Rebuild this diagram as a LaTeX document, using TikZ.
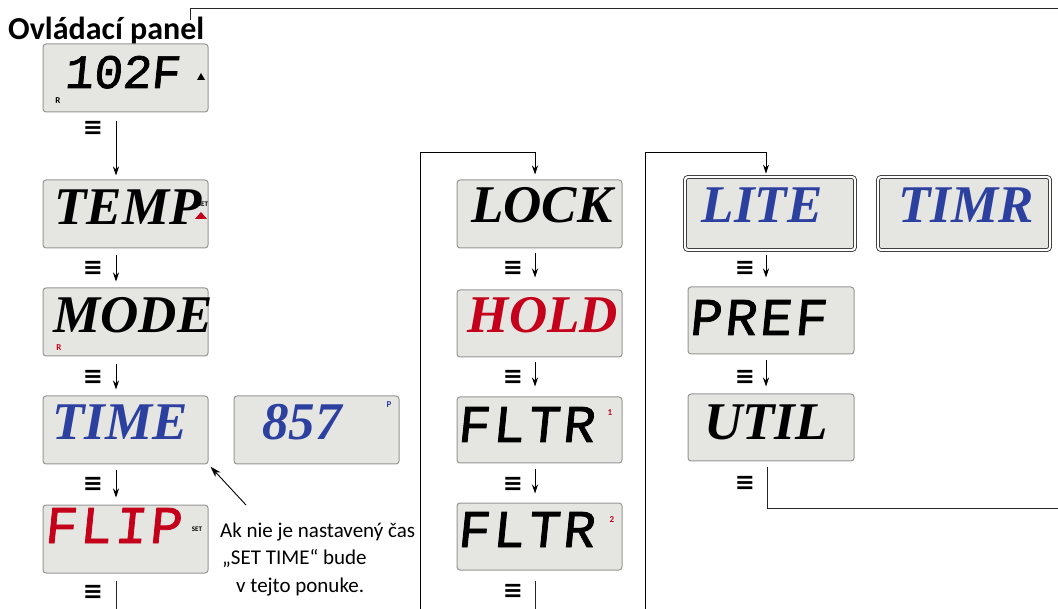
\documentclass[tikz,border=0pt]{standalone}
\usepackage{fontspec}
\setmainfont{Carlito}
\newfontfamily\lcdword{Liberation Serif}
\newfontfamily\segfont[FakeSlant=0.1, FakeBold=1.5, LetterSpace=6]{Liberation Mono}
\newfontfamily\segnarrow[FakeSlant=0.1, FakeBold=1.5]{Liberation Mono}
\newfontfamily\symfont{DejaVu Sans}
\usetikzlibrary{positioning,calc,arrows.meta}
\definecolor{lcdgray}{RGB}{229,229,225}
\definecolor{lcdedge}{RGB}{150,150,150}
\definecolor{lcdblue}{RGB}{44,64,160}
\definecolor{lcdred}{RGB}{196,0,26}
\tikzset{
  lcd/.style={rectangle, rounded corners=3pt, draw=lcdedge, line width=1pt, fill=lcdgray, minimum width=165pt, minimum height=68pt, inner sep=0pt},
  lcdd/.style={lcd, draw=black!85, line width=0.8pt, double=white, double distance=2.2pt, minimum width=170pt, minimum height=73pt},
  bigword/.style={font=\lcdword\bfseries\itshape\fontsize{53}{53}\selectfont, anchor=base, inner sep=0pt},
  segword/.style={font=\segfont\fontsize{53}{53}\selectfont, anchor=base west, inner sep=0pt},
  menu/.style={font=\symfont\bfseries\fontsize{24}{24}\selectfont, inner sep=0pt},
  tinylbl/.style={font=\bfseries\fontsize{9}{9}\selectfont, inner sep=0pt},
  note/.style={font=\fontsize{21}{21}\selectfont, anchor=base west, inner sep=0pt},
  flow/.style={draw=black, line width=0.9pt, -{Stealth[length=9pt,width=6pt]}},
  backline/.style={draw=black!85, line width=0.9pt}
}
\begin{document}
\begin{tikzpicture}[x=1pt, y=-1pt]
  \useasboundingbox (0,0) rectangle (1058,609);
  \fill[white] (0,0) rectangle (1058,609);
  % title
  \node[font=\bfseries\fontsize{32}{32}\selectfont, anchor=base west, inner sep=0pt] (title) at (8,40) {Ovládací panel};
  % displays, first column
  \node[lcd] (disp) at (125.5,78) {};
  \node[lcd] (temp) at (125.5,214) {};
  \node[lcd] (mode) at (125.5,322) {};
  \node[lcd] (time) at (125.5,430) {};
  \node[lcd] (clock) at (316.5,430) {};
  \node[lcd] (flip) at (125.5,539) {};
  % second column
  \node[lcd] (lock) at (539.5,214) {};
  \node[lcd, minimum height=67pt] (hold) at (539.5,323.5) {};
  \node[lcd, minimum height=66pt] (fltra) at (539.5,430) {};
  \node[lcd, minimum height=67pt] (fltrb) at (539.5,536.5) {};
  % third column
  \node[lcdd] (lite) at (770,213.5) {};
  \node[lcdd, minimum width=172pt] (timr) at (964,213.5) {};
  \node[lcd, minimum width=166pt, minimum height=67pt] (pref) at (771,320.5) {};
  \node[lcd, minimum width=166pt, minimum height=67pt] (util) at (771,427.5) {};
  % display texts
  \node[segword, font=\segnarrow\fontsize{48}{48}\selectfont] (dispw) at (64,88) {102F};
  \node[bigword] (tempw) at (128,225) {TEMP};
  \node[bigword] (modew) at (133,333) {MODE};
  \node[bigword, text=lcdblue] (timew) at (120,440) {TIME};
  \node[bigword, text=lcdblue] (clockw) at (302,440) {857};
  \node[segword, text=lcdred] (flipw) at (44,543) {FLIP};
  \node[bigword] (lockw) at (542,223) {LOCK};
  \node[bigword, text=lcdred] (holdw) at (543,333) {HOLD};
  \node[segword] (fltraw) at (457,442) {FLTR};
  \node[segword] (fltrbw) at (457,547) {FLTR};
  \node[bigword, text=lcdblue] (litew) at (762,223) {LITE};
  \node[bigword, text=lcdblue] (timrw) at (966,223) {TIMR};
  \node[segword] (prefw) at (689,335) {PREF};
  \node[bigword] (utilw) at (766,440) {UTIL};
  % small marks on the displays
  \node[tinylbl] (dispr) at (58,101) {R};
  \fill (197,80) -- (205,80) -- (201,73) -- cycle;
  \node[tinylbl, font=\bfseries\fontsize{7}{7}\selectfont] (tempset) at (203,204) {SET};
  \fill[lcdred] (195,219) -- (207,219) -- (201,212) -- cycle;
  \node[tinylbl, text=lcdred] (moder) at (59,348) {R};
  \node[tinylbl, text=lcdblue] (clockp) at (389,405) {P};
  \node[tinylbl, font=\bfseries\fontsize{7}{7}\selectfont] (flipset) at (197,529) {SET};
  \node[tinylbl, text=lcdred] (fltran) at (610,413) {1};
  \node[tinylbl, text=lcdred] (fltrbn) at (612,520) {2};
  % menu keys
  \node[menu] (m1) at (93,128) {≡};
  \node[menu] (m2) at (93,268) {≡};
  \node[menu] (m3) at (93,377) {≡};
  \node[menu] (m4) at (93,484) {≡};
  \node[menu] (m5) at (93,592) {≡};
  \node[menu] (m6) at (513,268) {≡};
  \node[menu] (m7) at (513,377) {≡};
  \node[menu] (m8) at (513,484) {≡};
  \node[menu] (m9) at (513,591) {≡};
  \node[menu] (m10) at (745,268) {≡};
  \node[menu] (m11) at (745,377) {≡};
  \node[menu] (m12) at (745,483) {≡};
  % note
  \node[note] (note1) at (220,537) {Ak nie je nastavený čas};
  \node[note] (note2) at (222,564) {„SET TIME“ bude};
  \node[note] (note3) at (236,592) {v tejto ponuke.};
  % loose ends at the border
  \coordinate (topret) at (1058,8);
  \coordinate (titlel) at (190,20);
  \coordinate (c1end) at (116,609);
  \coordinate (c2end) at (420,609);
  \coordinate (c2top) at (535,152);
  \coordinate (c3end) at (645,609);
  \coordinate (c3top) at (766,152);
  \coordinate (c3ret) at (1058,508);
  \coordinate (notetip) at (246,505);
  % arrows, first column
  \draw[flow, shorten <=9pt, shorten >=4pt] ([xshift=-9.5pt]disp.south) -- ([xshift=-9.5pt]temp.north);
  \draw[flow, shorten <=7pt, shorten >=6pt] ([xshift=-9.5pt]temp.south) -- ([xshift=-9.5pt]mode.north);
  \draw[flow, shorten <=8pt, shorten >=6pt] ([xshift=-9.5pt]mode.south) -- ([xshift=-9.5pt]time.north);
  \draw[flow, shorten <=6pt, shorten >=7pt] ([xshift=-9.5pt]time.south) -- ([xshift=-9.5pt]flip.north);
  \draw[backline] ([xshift=-9.5pt,yshift=-7pt]flip.south) -- (c1end);
  % arrows, second column
  \draw[flow, shorten >=5pt] (c2end) |- (c2top) -- (c2top |- lock.north);
  \draw[flow, shorten <=5pt, shorten >=12pt] ([xshift=-4.5pt]lock.south) -- ([xshift=-4.5pt]hold.north);
  \draw[flow, shorten <=5pt, shorten >=10pt] ([xshift=-4.5pt]hold.south) -- ([xshift=-4.5pt]fltra.north);
  \draw[flow, shorten <=6pt, shorten >=9pt] ([xshift=-4.5pt]fltra.south) -- ([xshift=-4.5pt]fltrb.north);
  \draw[backline] ([xshift=-4.5pt,yshift=-10pt]fltrb.south) -- (c2end -| c2top);
  % arrows, third column
  \draw[flow, shorten >=3pt] (c3end) |- (c3top) -- (c3top |- lite.north);
  \draw[flow, shorten <=5pt, shorten >=9pt] ([xshift=-4pt]lite.south) -- ([xshift=-5pt]pref.north);
  \draw[flow, shorten <=6pt, shorten >=7pt] ([xshift=-5pt]pref.south) -- ([xshift=-5pt]util.north);
  \draw[backline] ([xshift=-4pt,yshift=-6pt]util.south) |- (c3ret);
  % return to the panel
  \draw[backline] (topret) -| (titlel);
  \draw[line width=0.9pt, -{Stealth[length=11pt,width=7pt]}, shorten >=3pt] (notetip) -- (time.south east);
\end{tikzpicture}
\end{document}
